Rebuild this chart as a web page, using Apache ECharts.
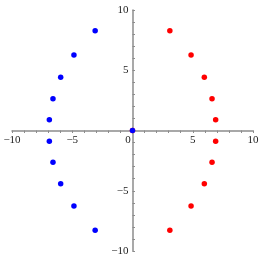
<!DOCTYPE html>
<html>
<head>
<meta charset="utf-8">
<script src="https://cdn.jsdelivr.net/npm/echarts@6/dist/echarts.min.js"></script>
<style>html,body{margin:0;padding:0;background:#fff;}#c{width:262px;height:262px;}</style>
</head>
<body>
<div id="c"></div>
<script>
const blueX = [-3.1, -4.86, -5.96, -6.6, -6.9, -6.9, -6.6, -5.96, -4.86, -3.1, 0];
const blueY = [8.27, 6.26, 4.41, 2.63, 0.89, -0.89, -2.63, -4.41, -6.26, -8.27, 0];
const redX = [3.1, 4.86, 5.96, 6.6, 6.9, 6.9, 6.6, 5.96, 4.86, 3.1, 0];
const redY = [8.27, 6.26, 4.41, 2.63, 0.89, -0.89, -2.63, -4.41, -6.26, -8.27, 0];
const axisMin = -10, axisMax = 10;

const gridW = 241, gridH = 241;
const fmt = v => {
  if (v % 5 !== 0) return '';
  if (v === 0) return '';
  return v < 0 ? '\u2212' + Math.abs(v) : String(v);
};
const chart = echarts.init(document.getElementById('c'));
const axisCommon = {
  type: 'value', min: axisMin, max: axisMax, interval: 1,
  splitLine: { show: false },
  axisLine: { onZero: false, lineStyle: { color: '#8c8c8c', width: 1.5 } },
  axisTick: { length: 2.5, lineStyle: { color: '#8c8c8c', width: 1 } },
  axisLabel: { fontFamily: 'Liberation Serif', fontSize: 11, color: '#222', margin: 4, hideOverlap: false }
};
chart.setOption({
  animation: false,
  grid: { left: 12, top: 10, width: gridW, height: gridH, containLabel: false, outerBoundsMode: 'none' },
  xAxis: Object.assign({}, axisCommon, {
    position: 'bottom', offset: -gridH / 2,
    axisTick: Object.assign({}, axisCommon.axisTick, { inside: false }),
    axisLabel: Object.assign({}, axisCommon.axisLabel, {
      formatter: v => v === 0 ? '{z|0}' : fmt(v),
      rich: { z: { fontFamily: 'Liberation Serif', fontSize: 11, color: '#222', padding: [0, 9, 0, 0] } }
    })
  }),
  yAxis: Object.assign({}, axisCommon, {
    position: 'left', offset: -gridW / 2,
    axisTick: Object.assign({}, axisCommon.axisTick, { inside: true }),
    axisLabel: Object.assign({}, axisCommon.axisLabel, { formatter: fmt })
  }),
  series: [
    { type: 'scatter', symbolSize: 5.5, itemStyle: { color: '#ff0000', opacity: 1 },
      data: redX.map((x, i) => [x, redY[i]]) },
    { type: 'scatter', symbolSize: 5.5, itemStyle: { color: '#0000ff', opacity: 1 },
      data: blueX.map((x, i) => [x, blueY[i]]) }
  ]
});
</script>
</body>
</html>
